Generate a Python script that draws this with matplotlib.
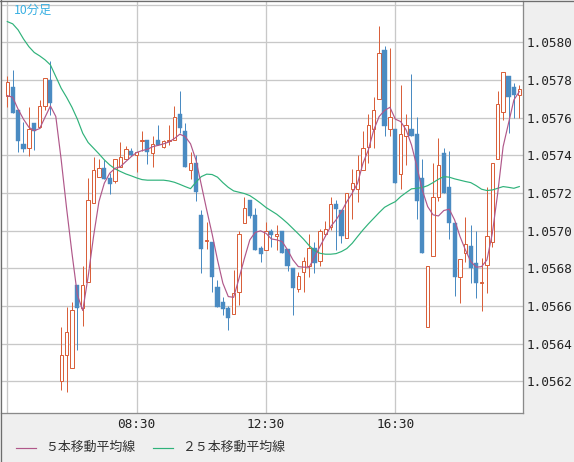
import matplotlib
matplotlib.use("Agg")
import matplotlib.pyplot as plt
import numpy as np
from matplotlib.lines import Line2D

nan = float("nan")

# ---- data (10-minute candles, index 0 = 04:30; index 9 has no candle) ----
opens = [1.057714, 1.057763, 1.057641, 1.057461, 1.057438, 1.057570, 1.057549, 1.057661, 1.057800, nan,
         1.056200, 1.056338, 1.056269, 1.056712, 1.056588, 1.056730, 1.057149, 1.057287, 1.057333, 1.057278,
         1.057266, 1.057340, 1.057379, 1.057423, 1.057402, 1.057477, 1.057482, 1.057411, 1.057482, 1.057446,
         1.057478, 1.057482, 1.057618, 1.057530, 1.057321, 1.057358, 1.057084, 1.056947, 1.056940, 1.056701,
         1.056620, 1.056590, 1.056556, 1.056676, 1.057039, 1.057163, 1.057084, 1.056908, 1.056898, 1.056999,
         1.056969, 1.056999, 1.056903, 1.056802, 1.056689, 1.056779, 1.056814, 1.056907, 1.056838, 1.056981,
         1.057018, 1.057140, 1.057110, 1.056960, 1.057220, 1.057220, 1.057322, 1.057446, 1.057538, 1.057698,
         1.057960, 1.057538, 1.057540, 1.057300, 1.057500, 1.057540, 1.057514, 1.057278, 1.056487, 1.056868,
         1.057177, 1.057411, 1.057230, 1.057039, 1.056756, 1.056880, 1.056917, 1.056827, 1.056721, 1.056818,
         1.056940, 1.057379, 1.057629, 1.057822, 1.057763, 1.057719]
highs = [1.057822, 1.057854, 1.057641, 1.057579, 1.057659, 1.057570, 1.057694, 1.057809, 1.057901, nan,
         1.056491, 1.056592, 1.056623, 1.056712, 1.056813, 1.057282, 1.057393, 1.057383, 1.057374, 1.057305,
         1.057379, 1.057471, 1.057450, 1.057441, 1.057415, 1.057530, 1.057482, 1.057501, 1.057561, 1.057482,
         1.057561, 1.057662, 1.057742, 1.057570, 1.057415, 1.057402, 1.057110, 1.057048, 1.056940, 1.056738,
         1.056650, 1.056600, 1.056791, 1.057000, 1.057181, 1.057163, 1.057119, 1.056919, 1.057048, 1.057009,
         1.057030, 1.056999, 1.056903, 1.056802, 1.056783, 1.056859, 1.056981, 1.056942, 1.057009, 1.057052,
         1.057181, 1.057163, 1.057110, 1.057199, 1.057326, 1.057402, 1.057530, 1.057620, 1.057707, 1.058084,
         1.057981, 1.057972, 1.057540, 1.057774, 1.057618, 1.057832, 1.057606, 1.057381, 1.056814, 1.057358,
         1.057494, 1.057441, 1.057423, 1.057039, 1.056848, 1.057075, 1.057030, 1.057000, 1.056853, 1.057234,
         1.057358, 1.057742, 1.057841, 1.057822, 1.057785, 1.057774]
lows = [1.057659, 1.057623, 1.057420, 1.057420, 1.057399, 1.057429, 1.057544, 1.057641, 1.057615, nan,
        1.056154, 1.056145, 1.056269, 1.056367, 1.056496, 1.056730, 1.057149, 1.057287, 1.057275, 1.057195,
        1.057255, 1.057340, 1.057379, 1.057397, 1.057310, 1.057425, 1.057354, 1.057340, 1.057455, 1.057439,
        1.057455, 1.057482, 1.057517, 1.057340, 1.057275, 1.057160, 1.056777, 1.056901, 1.056676, 1.056597,
        1.056553, 1.056473, 1.056556, 1.056606, 1.057039, 1.057069, 1.056898, 1.056836, 1.056898, 1.056915,
        1.056898, 1.056880, 1.056788, 1.056553, 1.056676, 1.056676, 1.056756, 1.056777, 1.056814, 1.056972,
        1.057004, 1.056898, 1.056937, 1.056960, 1.057061, 1.057154, 1.057322, 1.057358, 1.057438, 1.057698,
        1.057500, 1.057500, 1.057252, 1.057220, 1.057349, 1.057500, 1.057061, 1.056880, 1.056487, 1.056868,
        1.057160, 1.057199, 1.056958, 1.056653, 1.056618, 1.056836, 1.056721, 1.056641, 1.056576, 1.056668,
        1.056915, 1.057379, 1.057588, 1.057517, 1.057600, 1.057600]
closes = [1.057788, 1.057627, 1.057478, 1.057436, 1.057538, 1.057531, 1.057661, 1.057809, 1.057680, nan,
          1.056340, 1.056460, 1.056577, 1.056588, 1.056712, 1.057163, 1.057321, 1.057333, 1.057275, 1.057250,
          1.057379, 1.057392, 1.057432, 1.057400, 1.057415, 1.057480, 1.057420, 1.057459, 1.057455, 1.057478,
          1.057482, 1.057602, 1.057547, 1.057340, 1.057358, 1.057207, 1.056905, 1.056951, 1.056756, 1.056597,
          1.056586, 1.056538, 1.056668, 1.056983, 1.057119, 1.057078, 1.056898, 1.056876, 1.056999, 1.056977,
          1.056981, 1.056880, 1.056813, 1.056698, 1.056758, 1.056838, 1.056907, 1.056827, 1.056999, 1.057007,
          1.057140, 1.057117, 1.056969, 1.057199, 1.057252, 1.057321, 1.057438, 1.057560, 1.057639, 1.057942,
          1.057558, 1.057602, 1.057255, 1.057512, 1.057560, 1.057500, 1.057160, 1.056880, 1.056814, 1.057177,
          1.057347, 1.057199, 1.057039, 1.056756, 1.056848, 1.056928, 1.056800, 1.056721, 1.056730, 1.056970,
          1.057358, 1.057671, 1.057841, 1.057707, 1.057719, 1.057751]
ma5 = [1.057717, 1.057708, 1.057645, 1.057592, 1.057549, 1.057531, 1.057542, 1.057602, 1.057662, 1.057606,
       1.057376, 1.057119, 1.056880, 1.056659, 1.056576, 1.056756, 1.056969, 1.057154, 1.057252, 1.057305,
       1.057331, 1.057340, 1.057367, 1.057393, 1.057415, 1.057425, 1.057432, 1.057446, 1.057453, 1.057461,
       1.057471, 1.057489, 1.057512, 1.057500, 1.057461, 1.057376, 1.057243, 1.057110, 1.056983, 1.056845,
       1.056721, 1.056650, 1.056646, 1.056747, 1.056853, 1.056951, 1.056991, 1.056999, 1.056986, 1.056956,
       1.056951, 1.056942, 1.056898, 1.056845, 1.056809, 1.056806, 1.056806, 1.056859, 1.056915, 1.056969,
       1.057022, 1.057057, 1.057101, 1.057154, 1.057199, 1.057252, 1.057358, 1.057429, 1.057535, 1.057606,
       1.057638, 1.057655, 1.057592, 1.057579, 1.057535, 1.057455, 1.057340, 1.057216, 1.057128, 1.057084,
       1.057078, 1.057107, 1.057114, 1.057057, 1.056969, 1.056898, 1.056836, 1.056806, 1.056809, 1.056845,
       1.056986, 1.057199, 1.057446, 1.057570, 1.057694, 1.057738]
ma25 = [1.058110, 1.058098, 1.058066, 1.058018, 1.057977, 1.057946, 1.057928, 1.057907, 1.057880, 1.057818,
        1.057756, 1.057708, 1.057655, 1.057592, 1.057517, 1.057468, 1.057438, 1.057408, 1.057376, 1.057349,
        1.057328, 1.057314, 1.057301, 1.057291, 1.057280, 1.057271, 1.057268, 1.057268, 1.057268, 1.057268,
        1.057264, 1.057257, 1.057246, 1.057234, 1.057223, 1.057257, 1.057287, 1.057300, 1.057298, 1.057284,
        1.057255, 1.057230, 1.057211, 1.057204, 1.057197, 1.057186, 1.057167, 1.057146, 1.057123, 1.057105,
        1.057087, 1.057064, 1.057039, 1.057011, 1.056983, 1.056954, 1.056921, 1.056894, 1.056880, 1.056875,
        1.056875, 1.056878, 1.056889, 1.056905, 1.056933, 1.056969, 1.057004, 1.057036, 1.057066, 1.057096,
        1.057124, 1.057140, 1.057154, 1.057181, 1.057202, 1.057222, 1.057225, 1.057229, 1.057239, 1.057255,
        1.057273, 1.057287, 1.057284, 1.057275, 1.057268, 1.057261, 1.057255, 1.057239, 1.057220, 1.057213,
        1.057216, 1.057225, 1.057234, 1.057230, 1.057225, 1.057234]
xtick_pos = [0, 24, 48, 72]
xtick_labels = ["", "08:30", "12:30", "16:30"]
ytick_vals = [1.0562, 1.0564, 1.0566, 1.0568, 1.0570, 1.0572, 1.0574, 1.0576, 1.0578, 1.0580, 1.0582]
legend_labels = ["５本移動平均線", "２５本移動平均線"]
title_label = "10分足"

# ---- style ----
W, H = 574, 462
PX = 0.72
UP = "#d9603b"
DN = "#4a8bc2"
MA5C = "#b0588a"
MA25C = "#2fb27a"
GRID = "#c8c8c8"

fig = plt.figure(figsize=(W / 100, H / 100), dpi=100, facecolor="#efefef")
ax = fig.add_axes([1 / W, (H - 412.5) / H, 522 / W, 411.5 / H])
ax.set_facecolor("white")

o = np.array(opens, float); h = np.array(highs, float)
l = np.array(lows, float); c = np.array(closes, float)
x = np.arange(len(c))
valid = ~np.isnan(c)
up = valid & (c >= o)
dn = valid & (c < o)

ax.vlines(x[up], l[up], h[up], color=UP, lw=1.0 * PX, zorder=3)
ax.vlines(x[dn], l[dn], h[dn], color=DN, lw=1.0 * PX, zorder=3)
bw = 0.62
ax.bar(x[up], np.abs(c - o)[up], bottom=np.minimum(o, c)[up], width=bw,
       facecolor="white", edgecolor=UP, linewidth=1.0 * PX, zorder=4)
ax.bar(x[dn], np.abs(c - o)[dn], bottom=np.minimum(o, c)[dn], width=bw + 0.15,
       facecolor=DN, edgecolor=DN, linewidth=0.3, zorder=4)

ax.plot(x, ma25, color=MA25C, lw=0.85, zorder=5)
ax.plot(x, ma5, color=MA5C, lw=0.85, zorder=5)

ax.set_xlim(-1.17, 95.69)
ax.set_ylim(1.0560345, 1.0582193)

ax.set_xticks(xtick_pos)
ax.set_xticklabels(xtick_labels, family="DejaVu Sans Mono", fontsize=9.2, color="#222222")
ax.set_yticks(ytick_vals)
ax.set_yticklabels([f"{v:.4f}" if v < 1.0581 else "" for v in ytick_vals],
                   family="DejaVu Sans Mono", fontsize=9.2, color="#222222")
ax.yaxis.tick_right()
ax.tick_params(axis="both", length=0)
ax.tick_params(axis="y", pad=2.4)
ax.tick_params(axis="x", pad=4.0)
ax.grid(True, color=GRID, lw=1.3 * PX, zorder=0)
ax.set_axisbelow(True)

for s in ["left", "top"]:
    ax.spines[s].set_visible(False)
for s in ["right", "bottom"]:
    ax.spines[s].set_color("#8a8a8a")
    ax.spines[s].set_linewidth(1.3 * PX)

# figure border (top and left)
fig.add_artist(Line2D([0, 1], [1 - 0.6 / H] * 2, color="#6e6e6e", lw=1.3 * PX, transform=fig.transFigure))
fig.add_artist(Line2D([0.6 / W] * 2, [0, 1], color="#6e6e6e", lw=1.3 * PX, transform=fig.transFigure))

# title label
fig.text(14 / W, 1 - 10.5 / H, title_label, family=["Noto Sans CJK JP", "DejaVu Sans"],
         fontsize=8.8, color="#3ab0e2", va="center", ha="left")

# legend
ly = 1 - 447.5 / H
for (x0, x1, tx), col, lab in zip([(16, 36, 45), (153, 173, 182)], [MA5C, MA25C], legend_labels):
    fig.add_artist(Line2D([x0 / W, x1 / W], [ly, ly], color=col, lw=0.85, transform=fig.transFigure))
    fig.text(tx / W, ly, lab, family=["Noto Sans CJK JP", "DejaVu Sans"], fontsize=9.3,
             color="#333333", va="center", ha="left")

fig.savefig("out.png", dpi=100, facecolor=fig.get_facecolor())
